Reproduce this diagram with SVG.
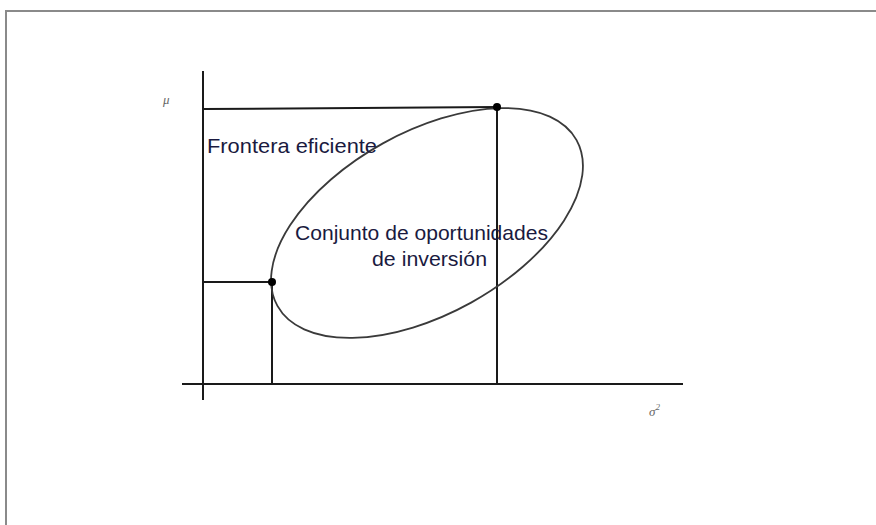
<svg xmlns="http://www.w3.org/2000/svg" width="876" height="525" viewBox="0 0 876 525">
<style>
.ln{stroke:#1a1a1a;stroke-width:2;fill:none}
.lbl{font-family:"Liberation Sans",Arial,sans-serif;font-size:21px;fill:#1a1a40}
.sym{font-family:"Liberation Serif","Times New Roman",serif;font-style:italic;font-size:13px;fill:#666}
</style>
<rect x="0" y="0" width="876" height="525" fill="#fff"/>
<rect x="6" y="11" width="900" height="600" fill="none" stroke="#8a8a8a" stroke-width="2"/>
<g id="axes">
<line class="ln" x1="203" y1="71" x2="203" y2="400"/>
<line class="ln" x1="182" y1="384" x2="683" y2="384"/>
</g>
<g id="connectors">
<line class="ln" x1="203" y1="109" x2="497" y2="107"/>
<line class="ln" x1="497" y1="107" x2="497" y2="384"/>
<line class="ln" x1="203" y1="282" x2="272" y2="282"/>
<line class="ln" x1="272" y1="282" x2="272" y2="384"/>
</g>
<g id="ellipse">
<ellipse cx="427" cy="223" rx="171" ry="91" transform="rotate(-29 427 223)" fill="none" stroke="#3a3a3a" stroke-width="1.8"/>
</g>
<g id="points">
<circle cx="497" cy="107" r="4" fill="#000"/>
<circle cx="272" cy="282" r="4" fill="#000"/>
</g>
<g id="labels">
<text class="lbl" x="207" y="153" textLength="170" lengthAdjust="spacingAndGlyphs">Frontera eficiente</text>
<text class="lbl" x="295" y="240" textLength="253" lengthAdjust="spacingAndGlyphs">Conjunto de oportunidades</text>
<text class="lbl" x="372" y="266" textLength="115" lengthAdjust="spacingAndGlyphs">de inversión</text>
<text class="sym" x="163" y="104">μ</text>
<text class="sym" x="649" y="416">σ<tspan dy="-6" font-size="9">2</tspan></text>
</g>
</svg>
